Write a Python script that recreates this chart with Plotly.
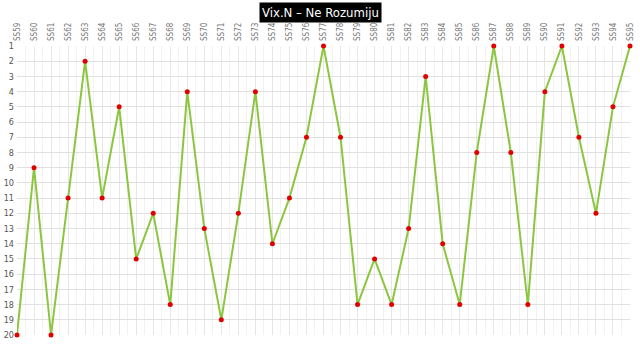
import plotly.graph_objects as go

categories = ["SS59", "SS60", "SS61", "SS62", "SS63", "SS64", "SS65", "SS66", "SS67", "SS68",
              "SS69", "SS70", "SS71", "SS72", "SS73", "SS74", "SS75", "SS76", "SS77", "SS78",
              "SS79", "SS80", "SS81", "SS82", "SS83", "SS84", "SS85", "SS86", "SS87", "SS88",
              "SS89", "SS90", "SS91", "SS92", "SS93", "SS94", "SS95"]
positions = [20, 9, 20, 11, 2, 11, 5, 15, 12, 18,
             4, 13, 19, 12, 4, 14, 11, 7, 1, 7,
             18, 15, 18, 13, 3, 14, 18, 8, 1, 8,
             18, 4, 1, 7, 12, 5, 1]
y_ticks = list(range(1, 21))

x_idx = list(range(len(categories)))

fig = go.Figure()
fig.add_trace(go.Scatter(
    x=x_idx, y=positions, mode="lines+markers",
    line=dict(color="#8cc63f", width=2),
    marker=dict(color="#e00000", size=5),
    cliponaxis=False, hoverinfo="skip"
))

fig.update_layout(
    width=640, height=360,
    margin=dict(l=17, r=10, t=46, b=25),
    paper_bgcolor="white", plot_bgcolor="white",
    showlegend=False,
    font=dict(family="DejaVu Sans Condensed", size=9, color="#666666"),
    annotations=[dict(
        text="Vix.N – Ne Rozumiju", xref="paper", yref="paper",
        x=(320 - 17) / 613, y=1, yshift=34, yanchor="middle", xanchor="center",
        showarrow=False, bgcolor="black", borderpad=2,
        font=dict(family="DejaVu Sans Condensed", size=13, color="white")
    )]
)
fig.update_xaxes(
    side="top", range=[0, len(categories) - 1], automargin=False,
    tickmode="array", tickvals=x_idx, ticktext=categories,
    tickangle=-90, tickfont=dict(size=8, color="#777777"),
    showgrid=True, gridcolor="#e6e6e6", gridwidth=1,
    minor=dict(dtick=0.5, tick0=0, showgrid=True, gridcolor="#f2f2f2"),
    zeroline=False, showline=False, ticks="", ticklabelstandoff=4
)
fig.update_yaxes(
    range=[20, 1], tickmode="array", tickvals=y_ticks, automargin=False,
    tickfont=dict(size=9, color="#555555"),
    showgrid=True, gridcolor="#e0e0e0", gridwidth=1,
    zeroline=False, showline=False, ticks="", ticklabelstandoff=2
)

fig.write_html("out.html", config={"displayModeBar": False},
               post_script="document.body.style.margin='0';")
